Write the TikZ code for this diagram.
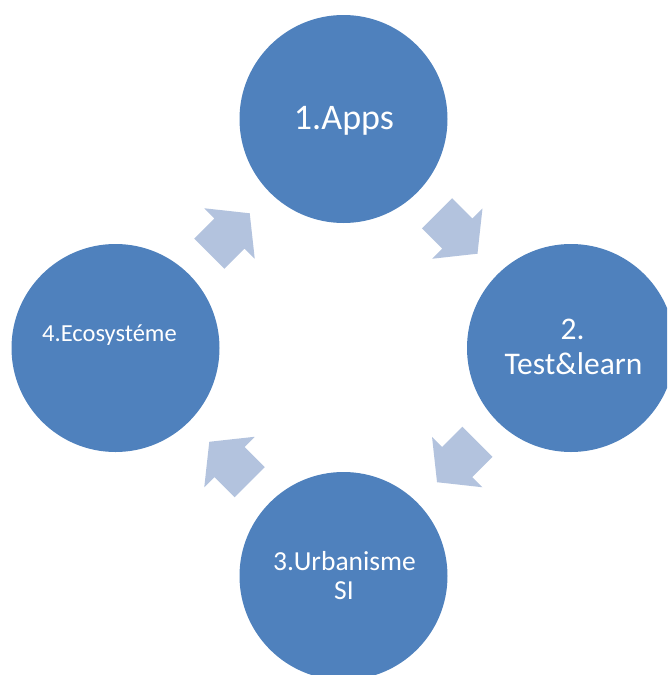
\documentclass[tikz,border=0pt]{standalone}
\usepackage{fontspec}
\setmainfont{Carlito}
\usetikzlibrary{calc}
\definecolor{discblue}{RGB}{79,129,189}
\definecolor{arrowblue}{RGB}{179,195,222}
% block arrow centred halfway between two discs, turned by #3 degrees
\newcommand\cyclearrow[3]{%
  \fill[blockarrow,shift={($(#1)!0.5!(#2)$)},rotate=#3]
    (-28.6,21.3) -- (0,21.3) -- (0,35.7) -- (28.6,0) -- (0,-35.7)
    -- (0,-21.3) -- (-28.6,-21.3) -- cycle;}
\begin{document}
\begin{tikzpicture}[x=1pt,y=-1pt,
  disc/.style={circle,fill=discblue,minimum size=208pt,inner sep=0pt},
  lbl/.style={text=white,anchor=base,inner sep=0pt},
  blockarrow/.style={fill=arrowblue}]
\useasboundingbox (0,0) rectangle (667,675);
\clip (0,0) rectangle (667,675);

% the four stages
\node[disc] (apps) at (343.5,119) {};
\node[disc] (test) at (571,348) {};
\node[disc] (urba) at (343.5,576) {};
\node[disc] (eco)  at (115.5,348) {};

% arrows of the cycle
\cyclearrow{apps}{test}{-45}
\cyclearrow{test}{urba}{-135}
\cyclearrow{urba}{eco}{135}
\cyclearrow{eco}{apps}{45}

% stage labels
\node[lbl,font=\fontsize{36}{43}\selectfont] (appstext) at (344,129) {1.Apps};
\node[lbl,font=\fontsize{31.5}{37}\selectfont] (testtexta) at (572.5,339) {2.};
\node[lbl,font=\fontsize{31.5}{37}\selectfont] (testtextb) at (573.5,374) {Test\&learn};
\node[lbl,font=\fontsize{27.5}{33}\selectfont] (urbatexta) at (344.5,570) {3.Urbanisme};
\node[lbl,font=\fontsize{27.5}{33}\selectfont] (urbatextb) at (344,599) {SI};
\node[lbl,font=\fontsize{24.5}{29}\selectfont] (ecotext) at (109.5,341) {4.Ecosystéme};
\end{tikzpicture}
\end{document}
